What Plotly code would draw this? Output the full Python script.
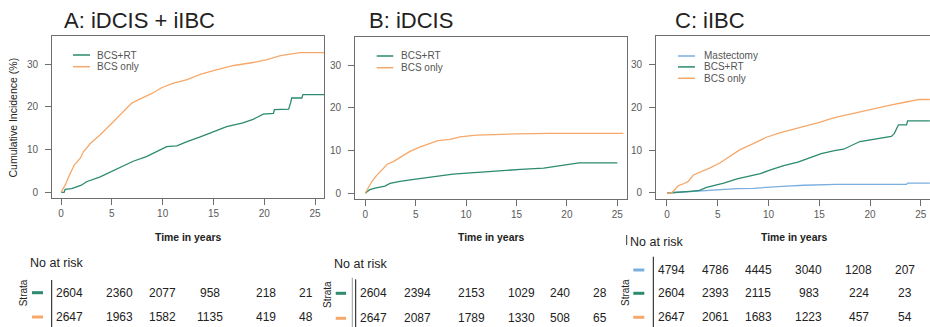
import plotly.graph_objects as go

# ---------------- data ----------------
series_names = ["Mastectomy", "BCS+RT", "BCS only"]
colors = {"Mastectomy": "#7aaedf", "BCS+RT": "#2b8a6f", "BCS only": "#f6a86a"}

# Panel A: iDCIS + iIBC
A_rt_t = [0, 0.3, 0.4, 1.05, 2.0, 2.5, 3.8, 5.0, 6.1, 7.1, 8.4, 9.4, 10.4, 11.4, 12.4, 13.7, 15.0, 16.3, 17.9, 18.9, 19.9, 20.9, 21.0, 22.4, 22.6, 22.7, 23.7, 23.8, 25.9]
A_rt_v = [0, 0, 0.7, 0.9, 1.7, 2.5, 3.6, 5.0, 6.3, 7.3, 8.4, 9.5, 10.7, 10.9, 11.9, 13.0, 14.2, 15.4, 16.3, 17.1, 18.3, 18.5, 19.4, 19.5, 21.0, 22.1, 22.1, 22.9, 22.9]
A_bcs_t = [0, 0.4, 0.89, 1.3, 1.9, 2.2, 2.9, 3.8, 5.0, 5.8, 6.96, 7.8, 8.9, 9.9, 11.0, 12.4, 13.7, 15.0, 17.0, 18.9, 20.2, 21.6, 22.9, 23.5, 25.9]
A_bcs_v = [0, 1.7, 4.4, 6.4, 8.0, 9.5, 11.5, 13.4, 16.2, 18.2, 20.9, 21.9, 23.1, 24.5, 25.5, 26.4, 27.6, 28.5, 29.7, 30.4, 31.0, 32.0, 32.4, 32.7, 32.7]

# Panel B: iDCIS
B_rt_t = [0, 0.4, 0.96, 1.95, 2.45, 3.45, 5.0, 6.1, 7.4, 8.7, 10.1, 11.7, 13.7, 15.4, 17.7, 19.0, 20.0, 21.2, 25.0]
B_rt_v = [0, 0.8, 1.2, 1.7, 2.3, 2.8, 3.3, 3.7, 4.2, 4.5, 4.7, 5.0, 5.3, 5.6, 5.9, 6.4, 6.8, 7.1, 7.1]
B_bcs_t = [0, 0.3, 0.63, 1.13, 1.62, 2.18, 2.78, 3.6, 4.43, 5.4, 6.4, 7.2, 8.4, 9.4, 11.0, 13.0, 15.0, 18.3, 25.6]
B_bcs_v = [0, 1.2, 2.7, 4.2, 5.4, 6.8, 7.4, 8.6, 9.8, 10.8, 11.7, 12.3, 12.6, 13.2, 13.6, 13.8, 13.9, 14.0, 14.0]

# Panel C: iIBC
C_mast_t = [0, 1.3, 2.6, 3.9, 5.2, 6.9, 8.5, 10.2, 11.8, 13.5, 15.1, 16.7, 23.6, 23.7, 25.9]
C_mast_v = [0, 0.2, 0.4, 0.6, 0.8, 1.0, 1.1, 1.4, 1.6, 1.8, 1.9, 2.0, 2.0, 2.3, 2.3]
C_rt_t = [0, 0.95, 2.3, 3.2, 3.9, 4.9, 5.6, 6.9, 8.2, 9.2, 10.2, 11.5, 12.9, 14.2, 15.2, 16.5, 17.4, 19.0, 20.0, 21.0, 22.1, 22.4, 22.8, 23.6, 23.7, 25.9]
C_rt_v = [0, 0.1, 0.4, 0.6, 1.3, 1.9, 2.3, 3.3, 3.9, 4.5, 5.4, 6.4, 7.2, 8.4, 9.2, 9.9, 10.2, 12.0, 12.4, 12.9, 13.2, 13.9, 15.9, 15.9, 16.8, 16.8]
C_bcs_t = [0, 0.45, 0.62, 1.1, 1.6, 2.1, 2.6, 3.2, 4.2, 5.2, 6.2, 7.2, 8.5, 9.8, 11.1, 12.4, 13.8, 15.1, 16.4, 18.0, 20.0, 22.0, 23.3, 24.8, 24.9, 25.9]
C_bcs_v = [0, 0, 0.4, 1.7, 2.1, 2.7, 4.2, 4.8, 5.8, 7.0, 8.5, 10.1, 11.5, 13.0, 14.0, 14.8, 15.7, 16.5, 17.5, 18.4, 19.4, 20.5, 21.1, 21.6, 21.8, 21.8]

x_ticks = [0, 5, 10, 15, 20, 25]
y_ticks = [0, 10, 20, 30]
panel_titles = ["A: iDCIS + iIBC", "B: iDCIS", "C: iIBC"]

# Numbers at risk
A_risk = {"BCS+RT": [2604, 2360, 2077, 958, 218, 21], "BCS only": [2647, 1963, 1582, 1135, 419, 48]}
B_risk = {"BCS+RT": [2604, 2394, 2153, 1029, 240, 28], "BCS only": [2647, 2087, 1789, 1330, 508, 65]}
C_risk = {"Mastectomy": [4794, 4786, 4445, 3040, 1208, 207],
          "BCS+RT": [2604, 2393, 2115, 983, 224, 23],
          "BCS only": [2647, 2061, 1683, 1223, 457, 54]}

# ---------------- layout helpers ----------------
W, H = 930, 327
FONT = "Liberation Sans, Arial, sans-serif"


def fx(p):
    return p / W


def fy(p):
    return 1 - p / H


panels = [
    dict(key="", frame=(52, 324, 36, 198), xr=[-0.89, 25.88], yr=[-1.3, 36.6],
         series=[("BCS+RT", A_rt_t, A_rt_v), ("BCS only", A_bcs_t, A_bcs_v)],
         title_x=63, leg_line=(73, 90), leg_text=95, leg_y=[55, 66.7],
         xtitle=(188, 237),
         risk=A_risk, risk_cols=[69.5, 119.5, 162.5, 210, 266, 306], risk_rows=[292.7, 317],
         noatrisk=(28, 262.7), strata=(23, 293.3), dash=(32, 43), vline=[(51.7, 280, "#111")]),
    dict(key="2", frame=(355, 627, 37, 199), xr=[-1.02, 25.96], yr=[-1.33, 36.55],
         series=[("BCS+RT", B_rt_t, B_rt_v), ("BCS only", B_bcs_t, B_bcs_v)],
         title_x=368, leg_line=(376.7, 393.3), leg_text=399, leg_y=[56, 67.7],
         xtitle=(491.3, 237),
         risk=B_risk, risk_cols=[373.3, 417, 471.7, 521.7, 560.3, 599.7], risk_rows=[293.3, 318.3],
         noatrisk=(331.7, 264), strata=(327, 295), dash=(335.7, 346),
         vline=[(352.3, 277.7, "#999"), (355.7, 279.3, "#111")]),
    dict(key="3", frame=(656, 930, 36, 199), xr=[-1.08, 25.91], yr=[-1.4, 36.6],
         series=[("Mastectomy", C_mast_t, C_mast_v), ("BCS+RT", C_rt_t, C_rt_v), ("BCS only", C_bcs_t, C_bcs_v)],
         title_x=674, leg_line=(678, 695), leg_text=702, leg_y=[56, 66.9, 78.3],
         xtitle=(793.7, 237.3),
         risk=C_risk, risk_cols=[671.7, 715.8, 758, 808.7, 858.7, 904.7], risk_rows=[270, 293.3, 317.3],
         noatrisk=(628.3, 242.3), strata=(625, 293), dash=(633.3, 644.3), vline=[(653.3, 256.7, "#111")]),
]

fig = go.Figure()
annotations = []
shapes = []

for i, p in enumerate(panels):
    k = p["key"]
    x0, x1, y0, y1 = p["frame"]
    for name, t, v in p["series"]:
        fig.add_trace(go.Scatter(x=t, y=v, mode="lines", name=name, showlegend=False,
                                 line=dict(color=colors[name], width=1.3),
                                 xaxis="x" + k, yaxis="y" + k, hoverinfo="skip"))
    axis_common = dict(showgrid=False, zeroline=False, showline=True, linecolor="#6e6e6e", linewidth=1,
                       ticks="outside", ticklen=6, tickcolor="#6e6e6e", tickwidth=1,
                       tickfont=dict(family=FONT, size=10, color="#5a5a5a"))
    fig.update_layout(**{
        "xaxis" + k: dict(axis_common, domain=[fx(x0), fx(x1)], range=p["xr"], tickvals=x_ticks,
                          anchor="y" + k, mirror=True),
        "yaxis" + k: dict(axis_common, domain=[fy(y1), fy(y0)], range=p["yr"], tickvals=y_ticks,
                          anchor="x" + k, mirror=(k != "3"), ticklabelstandoff=5),
    })
    # panel title
    annotations.append(dict(text=panel_titles[i], x=fx(p["title_x"] - 1), y=fy(20), xref="paper", yref="paper",
                            xanchor="left", yanchor="middle", showarrow=False,
                            font=dict(family=FONT, size=22, color="#222")))
    # in-plot legend
    for (name, _, _), ly in zip(p["series"], p["leg_y"]):
        shapes.append(dict(type="line", xref="paper", yref="paper", x0=fx(p["leg_line"][0]), x1=fx(p["leg_line"][1]),
                           y0=fy(ly), y1=fy(ly), line=dict(color=colors[name], width=1.5)))
        annotations.append(dict(text=name, x=fx(p["leg_text"]), y=fy(ly), xref="paper", yref="paper",
                                xanchor="left", yanchor="middle", showarrow=False,
                                font=dict(family=FONT, size=10, color="#555")))
    # x title
    annotations.append(dict(text="<b>Time in years</b>", x=fx(p["xtitle"][0]), y=fy(p["xtitle"][1]),
                            xref="paper", yref="paper",
                            xanchor="center", yanchor="middle", showarrow=False,
                            font=dict(family=FONT, size=10.4, color="#222")))
    # risk table
    annotations.append(dict(text="No at risk", x=fx(p["noatrisk"][0]), y=fy(p["noatrisk"][1]), xref="paper", yref="paper",
                            xanchor="left", yanchor="middle", showarrow=False,
                            font=dict(family=FONT, size=12.5, color="#222")))
    annotations.append(dict(text="Strata", x=fx(p["strata"][0]), y=fy(p["strata"][1]), xref="paper", yref="paper",
                            xanchor="center", yanchor="middle", showarrow=False, textangle=-90,
                            font=dict(family=FONT, size=10, color="#222")))
    for (name, _, _), ry in zip(p["series"], p["risk_rows"]):
        shapes.append(dict(type="line", xref="paper", yref="paper", x0=fx(p["dash"][0]), x1=fx(p["dash"][1]),
                           y0=fy(ry), y1=fy(ry), line=dict(color=colors[name], width=3)))
        for cx, val in zip(p["risk_cols"], p["risk"][name]):
            annotations.append(dict(text=str(val), x=fx(cx), y=fy(ry), xref="paper", yref="paper",
                                    xanchor="center", yanchor="middle", showarrow=False,
                                    font=dict(family=FONT, size=12, color="#222")))
    for vx, vtop, vcol in p["vline"]:
        shapes.append(dict(type="line", xref="paper", yref="paper", x0=fx(vx), x1=fx(vx), y0=fy(vtop), y1=fy(327),
                           line=dict(color=vcol, width=1)))

# y axis title (panel A)
annotations.append(dict(text="Cumulative Incidence (%)", x=fx(12), y=fy(117.5), xref="paper", yref="paper",
                        xanchor="center", yanchor="middle", showarrow=False, textangle=-90,
                        font=dict(family=FONT, size=10.5, color="#222")))
# small stray tick near panel B/C boundary
shapes.append(dict(type="line", xref="paper", yref="paper", x0=fx(626.7), x1=fx(626.7), y0=fy(235), y1=fy(245),
                   line=dict(color="#333", width=1)))

fig.update_layout(width=W, height=H, margin=dict(l=0, r=0, t=0, b=0),
                  paper_bgcolor="white", plot_bgcolor="white",
                  annotations=annotations, shapes=shapes, showlegend=False,
                  font=dict(family=FONT))

fig.write_html("out.html", config={"displayModeBar": False},
               post_script="document.body.style.margin='0';document.body.style.overflow='hidden';")
